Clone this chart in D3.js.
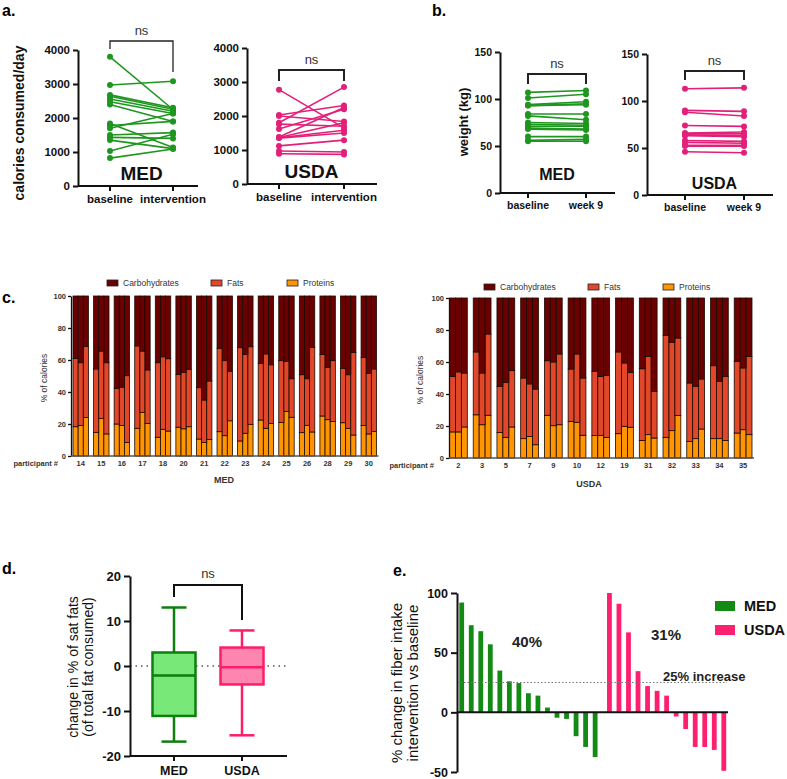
<!DOCTYPE html>
<html><head><meta charset="utf-8">
<script src="https://cdn.jsdelivr.net/npm/d3@7"></script>
<style>
body{margin:0;background:#fff;}
svg{display:block;font-family:"Liberation Sans",Arial,sans-serif;}
</style></head><body>
<svg id="chart" width="787" height="779"></svg>
<script>
// ---------- DATA ----------
// panel a: calories consumed/day
const calMedBaseline     = [3800, 2970, 2680, 2640, 2560, 2480, 2400, 1840, 1780, 1700, 1500, 1430, 1350, 1030, 820];
const calMedIntervention = [2250, 3080, 2300, 2260, 2200, 2130, 1900, 1130, 1900, 2130, 1570, 1400, 1100, 1520, 1090];
const calUsdaBaseline     = [2775, 1800, 2030, 2000, 1760, 1620, 1380, 1370, 1360, 1350, 1120, 970, 890];
const calUsdaIntervention = [1650, 2850, 2310, 1840, 1700, 2200, 2250, 1800, 1580, 1500, 1290, 940, 870];
const calTicks = [0, 1000, 2000, 3000, 4000];
const calLabels = ["baseline", "intervention"];
// panel b: weight (kg)
const wMedBaseline = [107, 101, 94, 93, 93, 84, 82, 75, 73, 71, 69, 68, 60, 56, 55];
const wMedWeek9    = [109, 105, 97, 95, 94, 84, 78, 74, 72, 71, 68, 67, 60, 57, 55];
const wUsdaBaseline = [113, 90, 88, 74, 66, 65, 64, 63, 58, 56, 53, 52, 46];
const wUsdaWeek9    = [114, 89, 84, 73, 67, 65, 63, 62, 57, 55, 53, 52, 45];
const wTicks = [0, 50, 100, 150];
const wLabels = ["baseline", "week 9"];
// panel c: % of calories (3 visits per participant)
const macroKeys = ["Proteins", "Fats", "Carbohydrates"];
const medParticipants = ["14","15","16","17","18","20","21","22","23","24","25","26","28","29","30"];
const medProteins = [[18.3,19,24],[14.8,23.5,13.8],[20,19,8.5],[17.3,27.3,20.4],[11.7,16.7,15.6],[18,17,18.3],[10.6,8.5,10.4],[15.2,12.7,22],[9.4,14.2,19.8],[22.5,17.3,20.4],[21,27.9,24.2],[14.6,19.2,15],[25,22.7,21.5],[20.8,17.3,13.1],[19,13.8,15.4]];
const medFats = [[42.7,39.3,44.5],[39.6,42.1,44.5],[22.3,24,41.7],[51.5,38.3,33.4],[46.6,45.3,45.2],[33,35.3,35.9],[32.1,26.5,36.5],[52.1,46.9,31],[58.3,49.3,48.5],[35.4,46.5,36.6],[38.6,31.1,24.1],[36.2,29.1,52.9],[38.5,32.7,38.1],[34,33.5,51.7],[42.5,37.9,39]];
const medCarbs = [[39,41.7,31.5],[45.6,34.4,41.7],[57.7,57,49.8],[31.2,34.4,46.2],[41.7,38,39.2],[49,47.7,45.8],[57.3,65,53.1],[32.7,40.4,47],[32.3,36.5,31.7],[42.1,36.2,43],[40.4,41,51.7],[49.2,51.7,32.1],[36.5,44.6,40.4],[45.2,49.2,35.2],[38.5,48.3,45.6]];
const usdaParticipants = ["2","3","5","7","9","10","12","19","31","32","33","34","35"];
const usdaProteins = [[16.3,16.3,19.4],[27,20.8,26.7],[16,12.9,19.4],[12.1,13.5,8.3],[26.7,20.2,20.8],[22.9,22.3,14.2],[14,14,12.9],[15.2,19.8,19.2],[11,14.6,12.5],[12.9,17.1,26.5],[10.4,12.1,18.1],[12.1,12.1,11],[15.6,17.7,14.6]];
const usdaFats = [[34.7,37.5,33.7],[39.3,32.3,50.8],[28.8,34.4,35.2],[37.9,32.8,34.8],[34.1,39.8,44.2],[32.7,42.7,35.8],[40.2,37,38.8],[51.1,39.6,34.3],[44.8,48.9,29.2],[63.8,55.2,48.5],[36.5,32.7,31.3],[45.6,35.8,40],[44.8,38.6,48.9]];
const usdaCarbs = [[49,46.2,46.9],[33.7,46.9,22.5],[55.2,52.7,45.4],[50,53.7,56.9],[39.2,40,35],[44.4,35,50],[45.8,49,48.3],[33.7,40.6,46.5],[44.2,36.5,58.3],[23.3,27.7,25],[53.1,55.2,50.6],[42.3,52.1,49],[39.6,43.7,36.5]];
const pctTicks = [0, 20, 40, 60, 80, 100];
// panel d: change in % sat fats (box stats)
const boxGroups = ["MED", "USDA"];
const boxMin = [-16.8, -15.4];
const boxQ1  = [-11.1, -4.1];
const boxMed = [-2.1, -0.3];
const boxQ3  = [3.0, 4.1];
const boxMax = [13.0, 7.9];
const satTicks = [-20, -10, 0, 10, 20];
// panel e: % change in fiber intake
const fiberMed  = [92, 73, 68, 57, 35, 26, 24.5, 16, 14, 4, -4.5, -5.5, -20, -29, -37.5];
const fiberUsda = [100, 91, 67, 34.5, 22, 18, 14, -3.5, -14, -29, -29, -31.5, -49];
const fiberTicks = [-50, 0, 50, 100];

// ---------- COLOURS ----------
const GREEN = "#1f961f", PINK = "#e2207a";
const macroColor = {Carbohydrates: "#6b0000", Fats: "#e2472a", Proteins: "#ff9500"};

const svg = d3.select("#chart");
const FONT = '"Liberation Sans",Arial,sans-serif';
const plain = d => String(d);

function panelLabel(t, x, y) {
  svg.append("text").attr("x", x).attr("y", y).attr("font-size", 16).attr("font-weight", "bold").text(t);
}
function styleAxis(g, fs, sw) {
  g.selectAll(".domain").attr("stroke", "#111").attr("stroke-width", sw);
  g.selectAll(".tick line").attr("stroke", "#111").attr("stroke-width", sw);
  g.selectAll(".tick text").attr("font-size", fs).attr("font-weight", "bold").attr("fill", "#111").attr("font-family", FONT);
}

// ---------- PANEL a / b : paired plots ----------
function paired(o) {
  const g = svg.append("g");
  const y = d3.scaleLinear().domain(o.domain).range([o.yBottom, o.yTop]);
  const x = d3.scalePoint().domain(o.labels).range([o.xb, o.xi]);
  const ya = g.append("g").attr("transform", `translate(${o.axisX},0)`)
    .call(d3.axisLeft(y).tickValues(o.ticks).tickFormat(plain).tickSize(5).tickPadding(3).tickSizeOuter(0));
  styleAxis(ya, o.tickFs, 2);
  g.append("line").attr("x1", o.axisX).attr("x2", o.axisEnd).attr("y1", o.yBottom).attr("y2", o.yBottom)
    .attr("stroke", "#111").attr("stroke-width", 2);
  o.labels.forEach(l => {
    g.append("line").attr("x1", x(l)).attr("x2", x(l)).attr("y1", o.yBottom).attr("y2", o.yBottom + 5)
      .attr("stroke", "#111").attr("stroke-width", 2);
    g.append("text").attr("x", x(l)).attr("y", o.xLabY).attr("text-anchor", "middle")
      .attr("font-size", o.xLabFs).attr("font-weight", "bold").attr("fill", "#111").text(l);
  });
  const pairs = o.a.map((v, i) => [v, o.b[i]]);
  const line = d3.line().x((d, i) => x(o.labels[i])).y(d => y(d));
  g.selectAll(".pl").data(pairs).join("path").attr("d", d => line(d))
    .attr("fill", "none").attr("stroke", o.color).attr("stroke-width", 1.6);
  pairs.forEach(p => p.forEach((v, i) => {
    g.append("circle").attr("cx", x(o.labels[i])).attr("cy", y(v)).attr("r", 3).attr("fill", o.color);
  }));
  g.append("path").attr("d", `M${x(o.labels[0])},${o.brL} V${o.brTop} H${x(o.labels[1])} V${o.brR}`)
    .attr("fill", "none").attr("stroke", "#222").attr("stroke-width", o.brW);
  g.append("text").attr("x", (x(o.labels[0]) + x(o.labels[1])) / 2).attr("y", o.brTop - 6)
    .attr("text-anchor", "middle").attr("font-size", 13).attr("fill", "#333").text("ns");
  g.append("text").attr("x", (x(o.labels[0]) + x(o.labels[1])) / 2).attr("y", o.nameY)
    .attr("text-anchor", "middle").attr("font-size", o.nameFs).attr("font-weight", "bold").attr("fill", "#111").text(o.name);
}

panelLabel("a.", 2, 16);
paired({domain:[0,4000], yBottom:186, yTop:50, axisX:78, axisEnd:198, xb:110, xi:173, labels:calLabels, ticks:calTicks,
  a:calMedBaseline, b:calMedIntervention, color:GREEN, brTop:41, brL:49, brR:72, brW:1.3, name:"MED", nameY:180, nameFs:19,
  xLabY:203, xLabFs:11.5, tickFs:11.5});
paired({domain:[0,4000], yBottom:184, yTop:48, axisX:247, axisEnd:377, xb:279, xi:344, labels:calLabels, ticks:calTicks,
  a:calUsdaBaseline, b:calUsdaIntervention, color:PINK, brTop:70, brL:81, brR:81, brW:2, name:"USDA", nameY:178, nameFs:19,
  xLabY:201, xLabFs:11.5, tickFs:11.5});
svg.append("text").attr("transform", "translate(24,123) rotate(-90)").attr("text-anchor", "middle")
  .attr("font-size", 14).attr("font-weight", "bold").attr("fill", "#111").text("calories consumed/day");

panelLabel("b.", 432, 16);
paired({domain:[0,150], yBottom:193, yTop:52, axisX:500, axisEnd:615, xb:528, xi:586, labels:wLabels, ticks:wTicks,
  a:wMedBaseline, b:wMedWeek9, color:GREEN, brTop:74, brL:84, brR:84, brW:2, name:"MED", nameY:180, nameFs:16,
  xLabY:209, xLabFs:10.5, tickFs:10.5});
paired({domain:[0,150], yBottom:195, yTop:54, axisX:647, axisEnd:773, xb:685, xi:744, labels:wLabels, ticks:wTicks,
  a:wUsdaBaseline, b:wUsdaWeek9, color:PINK, brTop:71, brL:80, brR:80, brW:2, name:"USDA", nameY:189, nameFs:16,
  xLabY:211, xLabFs:10.5, tickFs:10.5});
svg.append("text").attr("transform", "translate(468,122) rotate(-90)").attr("text-anchor", "middle")
  .attr("font-size", 13).attr("font-weight", "bold").attr("fill", "#111").text("weight (kg)");

// ---------- PANEL c : stacked bars ----------
function stacked(o) {
  const g = svg.append("g");
  const rows = [];
  o.parts.forEach((p, i) => [0,1,2].forEach(v => rows.push({
    participant: p, visit: v, Proteins: o.prot[i][v], Fats: o.fat[i][v], Carbohydrates: o.carb[i][v]})));
  const series = d3.stack().keys(macroKeys)(rows);
  const x = d3.scaleBand().domain(o.parts).range([o.x0, o.x1]).paddingInner(0.25).paddingOuter(0);
  const xs = d3.scaleBand().domain([0,1,2]).range([0, x.bandwidth()]);
  const y = d3.scaleLinear().domain([0,100]).range([o.yBottom, o.yTop]);
  series.forEach(s => {
    g.selectAll(null).data(s).join("rect")
      .attr("x", d => x(d.data.participant) + xs(d.data.visit))
      .attr("width", xs.bandwidth())
      .attr("y", d => y(d[1])).attr("height", d => y(d[0]) - y(d[1]))
      .attr("fill", macroColor[s.key]).attr("stroke", "#1a0a00").attr("stroke-width", 0.8);
  });
  const ya = g.append("g").attr("transform", `translate(${o.axisX},0)`)
    .call(d3.axisLeft(y).tickValues(pctTicks).tickFormat(plain).tickSize(3).tickPadding(2).tickSizeOuter(0));
  styleAxis(ya, 7.5, 1.3);
  ya.selectAll(".tick text").attr("fill", "#333");
  g.append("line").attr("x1", o.axisX).attr("x2", o.x1 + 2).attr("y1", o.yBottom).attr("y2", o.yBottom)
    .attr("stroke", "#555").attr("stroke-width", 1.3);
  o.parts.forEach(p => g.append("text").attr("x", x(p) + x.bandwidth() / 2).attr("y", o.yBottom + 10)
    .attr("text-anchor", "middle").attr("font-size", 7.5).attr("font-weight", "bold").attr("fill", "#333").text(p));
  g.append("text").attr("x", o.partX).attr("y", o.yBottom + 10).attr("text-anchor", "end")
    .attr("font-size", 7.5).attr("font-weight", "bold").attr("fill", "#333").text("participant #");
  g.append("text").attr("x", o.nameX).attr("y", o.nameY).attr("text-anchor", "middle")
    .attr("font-size", 9).attr("font-weight", "bold").attr("fill", "#333").text(o.name);
  g.append("text").attr("transform", `translate(${o.yLabX},${(o.yTop + o.yBottom) / 2 + 2}) rotate(-90)`)
    .attr("text-anchor", "middle").attr("font-size", 8.5).attr("fill", "#333").text("% of calories");
  const leg = [["Carbohydrates", o.legX[0]], ["Fats", o.legX[1]], ["Proteins", o.legX[2]]];
  leg.forEach(([k, lx]) => {
    g.append("rect").attr("x", lx).attr("y", o.legY - 3).attr("width", 11).attr("height", 6)
      .attr("fill", macroColor[k]).attr("stroke", "#222").attr("stroke-width", 0.8);
    g.append("text").attr("x", lx + 16).attr("y", o.legY + 3).attr("font-size", 8.5).attr("fill", "#333").text(k);
  });
}
panelLabel("c.", 2, 303);
stacked({parts:medParticipants, prot:medProteins, fat:medFats, carb:medCarbs, x0:73, x1:376.5, axisX:71,
  yBottom:456, yTop:296, partX:58, nameX:224, nameY:483, name:"MED", yLabX:47, legX:[107, 211, 287], legY:283});
stacked({parts:usdaParticipants, prot:usdaProteins, fat:usdaFats, carb:usdaCarbs, x0:449.5, x1:752, axisX:449,
  yBottom:458, yTop:298, partX:434, nameX:589, nameY:487, name:"USDA", yLabX:423, legX:[484, 588, 663], legY:287});

// ---------- PANEL d : box plot ----------
panelLabel("d.", 2, 574);
{
  const g = svg.append("g");
  const y = d3.scaleLinear().domain([-20, 20]).range([756, 576]);
  const x = d3.scalePoint().domain(boxGroups).range([174, 242]);
  g.append("line").attr("x1", 130).attr("x2", 287).attr("y1", y(0)).attr("y2", y(0))
    .attr("stroke", "#555").attr("stroke-width", 1.5).attr("stroke-dasharray", "1.5,4");
  const fills = ["#78e878", "#ff85b1"], strokes = ["#0e7f0e", "#ff1c68"];
  const bw = 43, cap = 25;
  boxGroups.forEach((k, i) => {
    const cx = x(k);
    g.append("line").attr("x1", cx).attr("x2", cx).attr("y1", y(boxMax[i])).attr("y2", y(boxQ3[i])).attr("stroke", strokes[i]).attr("stroke-width", 2.5);
    g.append("line").attr("x1", cx).attr("x2", cx).attr("y1", y(boxQ1[i])).attr("y2", y(boxMin[i])).attr("stroke", strokes[i]).attr("stroke-width", 2.5);
    [boxMax[i], boxMin[i]].forEach(v => g.append("line").attr("x1", cx - cap / 2).attr("x2", cx + cap / 2)
      .attr("y1", y(v)).attr("y2", y(v)).attr("stroke", strokes[i]).attr("stroke-width", 2.5));
    g.append("rect").attr("x", cx - bw / 2).attr("width", bw).attr("y", y(boxQ3[i])).attr("height", y(boxQ1[i]) - y(boxQ3[i]))
      .attr("fill", fills[i]).attr("stroke", strokes[i]).attr("stroke-width", 2.5);
    g.append("line").attr("x1", cx - bw / 2).attr("x2", cx + bw / 2).attr("y1", y(boxMed[i])).attr("y2", y(boxMed[i]))
      .attr("stroke", strokes[i]).attr("stroke-width", 2.5);
    g.append("text").attr("x", cx).attr("y", 775).attr("text-anchor", "middle").attr("font-size", 12.5)
      .attr("font-weight", "bold").attr("fill", "#111").text(k);
  });
  const ya = g.append("g").attr("transform", "translate(130,0)")
    .call(d3.axisLeft(y).tickValues(satTicks).tickFormat(plain).tickSize(6).tickPadding(3).tickSizeOuter(0));
  styleAxis(ya, 13, 2);
  g.append("line").attr("x1", 130).attr("x2", 287).attr("y1", 756).attr("y2", 756).attr("stroke", "#111").attr("stroke-width", 2);
  boxGroups.forEach(k => g.append("line").attr("x1", x(k)).attr("x2", x(k)).attr("y1", 756).attr("y2", 761).attr("stroke", "#111").attr("stroke-width", 2));
  g.append("path").attr("d", `M174,597 V585 H242 V620`).attr("fill", "none").attr("stroke", "#111").attr("stroke-width", 2);
  g.append("text").attr("x", 208).attr("y", 578).attr("text-anchor", "middle").attr("font-size", 13).attr("fill", "#333").text("ns");
  g.append("text").attr("transform", "translate(78,667) rotate(-90)").attr("text-anchor", "middle")
    .attr("font-size", 14).attr("fill", "#111").text("change in % of sat fats");
  g.append("text").attr("transform", "translate(93,667) rotate(-90)").attr("text-anchor", "middle")
    .attr("font-size", 14).attr("fill", "#111").text("(of total fat consumed)");
}

// ---------- PANEL e : waterfall bars ----------
panelLabel("e.", 393, 576);
{
  const g = svg.append("g");
  const y = d3.scaleLinear().domain([-50, 100]).range([772, 593]);
  const bars = fiberMed.map((v, i) => ({pos: i, v, grp: "MED"}))
    .concat(fiberUsda.map((v, j) => ({pos: 15.5 + j, v, grp: "USDA"})));
  const x = d3.scaleLinear().domain([0, 27.5]).range([461.7, 723.8]);
  const colors = {MED: "#138a13", USDA: "#ff1f70"};
  const bw = 4.8;
  g.selectAll(null).data(bars).join("rect")
    .attr("x", d => x(d.pos) - bw / 2).attr("width", bw)
    .attr("y", d => y(Math.max(0, d.v))).attr("height", d => Math.abs(y(d.v) - y(0)))
    .attr("fill", d => colors[d.grp]);
  g.append("line").attr("x1", 457).attr("x2", 727).attr("y1", y(25)).attr("y2", y(25))
    .attr("stroke", "#777").attr("stroke-width", 1.2).attr("stroke-dasharray", "1.5,2");
  g.append("line").attr("x1", 457).attr("x2", 728).attr("y1", y(0)).attr("y2", y(0)).attr("stroke", "#111").attr("stroke-width", 2);
  const ya = g.append("g").attr("transform", "translate(457,0)")
    .call(d3.axisLeft(y).tickValues(fiberTicks).tickFormat(plain).tickSize(6).tickPadding(3).tickSizeOuter(0));
  styleAxis(ya, 12.5, 2);
  g.append("text").attr("x", 527).attr("y", 647).attr("text-anchor", "middle").attr("font-size", 15).attr("font-weight", "bold").attr("fill", "#222").text("40%");
  g.append("text").attr("x", 666).attr("y", 640).attr("text-anchor", "middle").attr("font-size", 15).attr("font-weight", "bold").attr("fill", "#222").text("31%");
  g.append("text").attr("x", 663).attr("y", 681).attr("font-size", 13).attr("font-weight", "bold").attr("fill", "#222").text("25% increase");
  [["MED", 601], ["USDA", 625]].forEach(([k, ly]) => {
    g.append("rect").attr("x", 715).attr("y", ly).attr("width", 20).attr("height", 10).attr("fill", colors[k]);
    g.append("text").attr("x", 744).attr("y", ly + 10).attr("font-size", 14.5).attr("font-weight", "bold").attr("fill", "#111").text(k);
  });
  g.append("text").attr("transform", "translate(402,683) rotate(-90)").attr("text-anchor", "middle")
    .attr("font-size", 15).attr("fill", "#111").text("% change in fiber intake");
  g.append("text").attr("transform", "translate(418,683) rotate(-90)").attr("text-anchor", "middle")
    .attr("font-size", 15).attr("fill", "#111").text("intervention vs baseline");
}
</script>
</body></html>
